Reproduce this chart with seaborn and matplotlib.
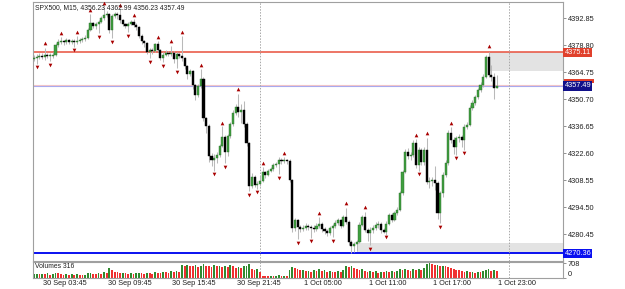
import numpy as np
import pandas as pd
import matplotlib
matplotlib.use("Agg")
import matplotlib.pyplot as plt
import matplotlib.transforms as mtransforms
from matplotlib.patches import Rectangle
import seaborn as sns

# SPX500 M15 bars
opens = [4371.5, 4372.0, 4372.6, 4373.1, 4372.6, 4373.6, 4373.1, 4373.1, 4373.6, 4378.8,
         4380.4, 4380.9, 4380.4, 4381.4, 4380.4, 4380.9, 4380.4, 4380.9, 4381.4, 4381.9,
         4382.4, 4386.6, 4390.2, 4388.7, 4389.7, 4390.8, 4392.8, 4394.4, 4394.9, 4386.6,
         4393.9, 4394.9, 4394.4, 4391.8, 4389.7, 4388.7, 4389.7, 4390.8, 4389.2, 4388.2,
         4383.5, 4380.9, 4379.9, 4375.2, 4376.2, 4375.7, 4379.3, 4376.2, 4372.0, 4373.6,
         4374.6, 4374.1, 4374.6, 4371.5, 4374.1, 4373.1, 4372.0, 4367.9, 4363.7, 4365.3,
         4358.0, 4352.8, 4357.5, 4361.1, 4340.8, 4336.7, 4321.1, 4319.0, 4320.0, 4321.6,
         4326.3, 4330.9, 4323.2, 4331.5, 4337.7, 4343.5, 4346.6, 4344.0, 4345.0, 4337.7,
         4327.8, 4305.5, 4310.2, 4306.0, 4306.5, 4308.1, 4312.8, 4311.2, 4313.3, 4314.3,
         4316.4, 4316.9, 4319.0, 4318.5, 4319.0, 4318.5, 4308.6, 4283.6, 4287.8, 4284.1,
         4283.1, 4283.6, 4284.6, 4284.1, 4283.6, 4283.1, 4284.6, 4285.7, 4283.1, 4282.1,
         4281.0, 4283.6, 4284.6, 4286.2, 4287.8, 4284.7, 4289.4, 4286.8, 4276.4, 4274.3,
         4275.3, 4276.4, 4285.2, 4289.4, 4282.6, 4281.0, 4282.6, 4283.6, 4285.2, 4285.7,
         4282.6, 4281.5, 4285.7, 4290.4, 4287.8, 4291.4, 4293.0, 4301.8, 4312.8, 4323.1,
         4321.1, 4321.6, 4327.8, 4316.4, 4324.2, 4317.9, 4324.2, 4307.5, 4308.1, 4308.6,
         4307.0, 4291.4, 4301.8, 4311.2, 4317.4, 4333.0, 4329.4, 4325.8, 4330.4, 4330.9,
         4329.4, 4336.1, 4337.2, 4346.0, 4348.6, 4351.8, 4355.4, 4358.0, 4362.2, 4372.6,
         4363.2, 4362.2, 4356.23]
highs = [4373.5, 4374.0, 4374.5, 4374.5, 4377.5, 4374.5, 4374.5, 4375.0, 4380.0, 4382.0,
         4383.0, 4381.5, 4382.5, 4382.0, 4382.0, 4382.0, 4383.5, 4382.5, 4383.0, 4384.0,
         4387.5, 4395.0, 4391.0, 4391.0, 4392.0, 4394.0, 4398.5, 4396.5, 4395.5, 4395.0,
         4396.0, 4396.0, 4397.5, 4392.5, 4390.5, 4391.0, 4392.0, 4392.5, 4390.0, 4388.5,
         4384.5, 4381.5, 4380.5, 4377.5, 4377.0, 4380.0, 4381.0, 4376.5, 4375.0, 4376.0,
         4375.5, 4378.5, 4375.5, 4375.0, 4374.5, 4383.5, 4372.5, 4368.5, 4366.5, 4366.0,
         4358.5, 4358.5, 4366.5, 4362.0, 4341.5, 4337.5, 4322.5, 4322.0, 4323.0, 4327.5,
         4336.5, 4332.0, 4332.5, 4338.5, 4345.0, 4348.0, 4353.5, 4348.0, 4349.5, 4338.5,
         4328.5, 4312.0, 4311.0, 4308.0, 4310.5, 4315.5, 4313.5, 4314.5, 4315.5, 4317.5,
         4318.0, 4320.5, 4320.0, 4320.5, 4319.5, 4319.5, 4309.0, 4289.0, 4288.5, 4285.0,
         4285.0, 4286.0, 4285.5, 4285.0, 4285.0, 4286.0, 4289.5, 4286.5, 4284.0, 4283.0,
         4284.5, 4285.5, 4287.5, 4289.0, 4288.5, 4290.5, 4294.0, 4287.5, 4277.5, 4276.5,
         4277.5, 4286.5, 4290.5, 4292.0, 4283.5, 4284.0, 4285.0, 4286.5, 4287.0, 4286.5,
         4283.5, 4287.0, 4291.5, 4291.5, 4292.5, 4294.5, 4303.0, 4314.0, 4324.5, 4325.0,
         4323.0, 4329.5, 4330.0, 4325.5, 4325.0, 4325.5, 4330.5, 4310.0, 4310.0, 4316.0,
         4308.0, 4303.0, 4312.5, 4319.0, 4334.5, 4336.0, 4331.0, 4331.5, 4332.5, 4332.0,
         4337.5, 4339.0, 4347.5, 4350.0, 4353.0, 4356.5, 4359.5, 4363.5, 4373.5, 4375.11,
         4368.5, 4364.0, 4362.99]
lows = [4370.5, 4369.0, 4371.5, 4371.5, 4371.0, 4372.0, 4370.5, 4372.0, 4373.0, 4378.0,
        4379.5, 4379.0, 4379.5, 4379.5, 4379.5, 4378.0, 4379.5, 4380.0, 4380.5, 4381.0,
        4382.0, 4386.0, 4387.5, 4387.0, 4385.0, 4390.0, 4392.0, 4393.5, 4385.0, 4382.5,
        4393.0, 4392.5, 4390.5, 4388.5, 4387.5, 4385.5, 4389.0, 4388.0, 4386.5, 4382.5,
        4379.5, 4378.0, 4374.0, 4372.0, 4374.0, 4375.0, 4375.0, 4371.0, 4370.0, 4373.0,
        4373.0, 4373.0, 4369.5, 4367.0, 4372.0, 4370.5, 4366.5, 4361.0, 4362.5, 4356.0,
        4350.0, 4351.5, 4356.5, 4339.5, 4333.0, 4318.0, 4316.0, 4313.5, 4317.5, 4320.5,
        4325.5, 4317.5, 4321.0, 4330.5, 4336.5, 4342.5, 4341.5, 4338.0, 4336.0, 4326.0,
        4303.0, 4304.5, 4305.0, 4304.0, 4305.5, 4307.5, 4309.5, 4310.5, 4312.5, 4313.5,
        4315.5, 4311.5, 4317.0, 4317.5, 4317.0, 4307.5, 4281.5, 4282.0, 4278.0, 4281.5,
        4282.0, 4282.5, 4282.5, 4278.5, 4281.5, 4282.0, 4283.5, 4281.5, 4280.5, 4279.5,
        4280.0, 4279.0, 4283.5, 4285.0, 4283.5, 4284.0, 4285.5, 4275.0, 4270.4, 4271.0,
        4271.5, 4276.0, 4284.5, 4281.5, 4277.0, 4274.5, 4281.0, 4282.5, 4283.5, 4281.0,
        4281.0, 4280.0, 4285.0, 4286.5, 4287.0, 4290.5, 4292.5, 4301.0, 4312.0, 4319.5,
        4319.0, 4320.5, 4315.0, 4313.5, 4316.5, 4316.5, 4306.5, 4304.5, 4305.5, 4303.5,
        4288.5, 4286.0, 4299.5, 4310.0, 4316.5, 4328.0, 4322.0, 4321.5, 4328.5, 4325.5,
        4324.0, 4335.0, 4336.5, 4345.0, 4347.5, 4350.5, 4354.5, 4357.0, 4361.5, 4362.0,
        4360.0, 4350.5, 4356.23]
closes = [4372.0, 4372.6, 4373.1, 4372.6, 4373.6, 4373.1, 4373.1, 4373.6, 4378.8, 4380.4,
          4380.9, 4380.4, 4381.4, 4380.4, 4380.9, 4380.4, 4380.9, 4381.4, 4381.9, 4382.4,
          4386.6, 4390.2, 4388.7, 4389.7, 4390.8, 4392.8, 4394.4, 4394.9, 4386.6, 4393.9,
          4394.9, 4394.4, 4391.8, 4389.7, 4388.7, 4389.7, 4390.8, 4389.2, 4388.2, 4383.5,
          4380.9, 4379.9, 4375.2, 4376.2, 4375.7, 4379.3, 4376.2, 4372.0, 4373.6, 4374.6,
          4374.1, 4374.6, 4371.5, 4374.1, 4373.1, 4372.0, 4367.9, 4363.7, 4365.3, 4358.0,
          4352.8, 4357.5, 4361.1, 4340.8, 4336.7, 4321.1, 4319.0, 4320.0, 4321.6, 4326.3,
          4330.9, 4323.2, 4331.5, 4337.7, 4343.5, 4346.6, 4344.0, 4345.0, 4337.7, 4327.8,
          4305.5, 4310.2, 4306.0, 4306.5, 4308.1, 4312.8, 4311.2, 4313.3, 4314.3, 4316.4,
          4316.9, 4319.0, 4318.5, 4319.0, 4318.5, 4308.6, 4283.6, 4287.8, 4284.1, 4283.1,
          4283.6, 4284.6, 4284.1, 4283.6, 4283.1, 4284.6, 4285.7, 4283.1, 4282.1, 4281.0,
          4283.6, 4284.6, 4286.2, 4287.8, 4284.7, 4289.4, 4286.8, 4276.4, 4274.3, 4275.3,
          4276.4, 4285.2, 4289.4, 4282.6, 4281.0, 4282.6, 4283.6, 4285.2, 4285.7, 4282.6,
          4281.5, 4285.7, 4290.4, 4287.8, 4291.4, 4293.0, 4301.8, 4312.8, 4323.1, 4321.1,
          4321.6, 4327.8, 4316.4, 4324.2, 4317.9, 4324.2, 4307.5, 4308.1, 4308.6, 4307.0,
          4291.4, 4301.8, 4311.2, 4317.4, 4333.0, 4329.4, 4325.8, 4330.4, 4330.9, 4329.4,
          4336.1, 4337.2, 4346.0, 4348.6, 4351.8, 4355.4, 4358.0, 4362.2, 4372.6, 4363.2,
          4362.2, 4356.23, 4357.49]
volumes = [180, 210, 170, 200, 190, 230, 160, 200, 260, 220,
           170, 150, 190, 160, 180, 150, 170, 160, 140, 150,
           240, 260, 210, 190, 230, 210, 270, 250, 470, 380,
           300, 270, 240, 250, 230, 210, 240, 200, 230, 250,
           230, 210, 260, 240, 200, 270, 250, 230, 300, 280,
           240, 320, 270, 340, 300, 620, 560, 640, 600, 580,
           610, 530, 560, 650, 600, 580, 540, 620, 560, 600,
           540, 580, 520, 610, 560, 500, 540, 470, 560, 590,
           680, 420, 380, 450, 300, 120, 110, 90, 120, 100,
           110, 130, 100, 120, 110, 380, 520, 460, 420, 380,
           400, 340, 360, 310, 380, 350, 410, 330, 370, 300,
           340, 310, 280, 330, 290, 380, 560, 520, 580, 480,
           450, 380, 420, 360, 300, 330, 280, 320, 260, 300,
           280, 330, 300, 340, 290, 360, 420, 380, 450, 400,
           360, 420, 380, 440, 400, 470, 690, 708, 680, 620,
           640, 580, 600, 560, 520, 470, 440, 400, 380, 350,
           300, 330, 280, 310, 260, 300, 280, 340, 380, 420,
           350, 380, 316]

# fractal arrows
up_bars = [4, 10, 16, 21, 26, 32, 37, 46, 51, 55, 62, 70, 76, 85, 93, 106, 116, 123, 142, 146, 155, 169]
up_prices = [4379.9, 4385.0, 4385.6, 4397.0, 4400.7, 4399.6, 4394.4, 4383.0, 4380.9, 4385.6, 4368.4,
             4338.2, 4355.9, 4317.4, 4322.6, 4291.4, 4296.6, 4294.5, 4332.0, 4333.0, 4338.2, 4378.3]
down_bars = [1, 6, 15, 24, 29, 35, 43, 48, 53, 67, 71, 80, 83, 91, 98, 103, 111, 125, 131, 143, 151, 157, 160]
down_prices = [4367.4, 4368.4, 4376.2, 4382.9, 4380.4, 4383.5, 4370.0, 4367.9, 4364.8, 4311.7, 4315.3,
               4300.7, 4302.3, 4309.6, 4275.8, 4276.8, 4276.8, 4272.7, 4278.9, 4311.7, 4284.1, 4320.0, 4322.6]

price_ticks = [4392.85, 4378.80, 4364.75, 4350.70, 4336.65, 4322.60, 4308.55, 4294.50, 4280.45]
time_ticks = [11.5, 35.5, 59.5, 83.5, 107.5, 131.5, 155.5, 179.5]
time_labels = ['30 Sep 03:45', '30 Sep 09:45', '30 Sep 15:45', '30 Sep 21:45',
               '1 Oct 05:00', '1 Oct 11:00', '1 Oct 17:00', '1 Oct 23:00']
separators = [84, 176.5]

resistance = 4375.11
support = 4270.36
bid = 4357.49
ask = 4358.25
zone_top = [169, 4365.5, 4375.11]
zone_bottom = [120, 4270.36, 4275.8]

sns.set_style("white")
plt.rcParams['font.family'] = ['Liberation Sans', 'DejaVu Sans']

df = pd.DataFrame({'open': opens, 'high': highs, 'low': lows, 'close': closes, 'volume': volumes})
df['bar'] = np.arange(len(df))
bull = df['close'] >= df['open']

W, H = 625, 289
fig = plt.figure(figsize=(W / 100, H / 100), dpi=100)
ax = fig.add_axes([33 / W, 1 - 261 / H, 530 / W, 259 / H])
axv = fig.add_axes([33 / W, 1 - 278 / H, 530 / W, 16 / H], sharex=ax)

xmax = 196.65
ax.set_xlim(-0.37, xmax)
ax.set_ylim(4266.42, 4401.18)

# shaded zones
ax.fill_between([zone_top[0], xmax], zone_top[1], zone_top[2], color='#e3e3e3', lw=0, zorder=0)
ax.fill_between([zone_bottom[0], xmax], zone_bottom[1], zone_bottom[2], color='#e3e3e3', lw=0, zorder=0)

# candles
ax.vlines(df['bar'], df['low'], df['high'], color='#b9b9b9', lw=0.75, zorder=2)
body = (df['close'] - df['open']).abs().clip(lower=0.45)
ax.bar(df['bar'][bull], body[bull], bottom=df['open'][bull], width=0.78,
       color='#3f9f3f', edgecolor='#2c6e2c', lw=0.3, zorder=3)
ax.bar(df['bar'][~bull], body[~bull], bottom=df['close'][~bull], width=0.78,
       color='#000000', edgecolor='#000000', lw=0.3, zorder=3)

sns.scatterplot(x=up_bars, y=up_prices, marker='^', s=7, color='#a80000', linewidth=0, ax=ax, zorder=4)
sns.scatterplot(x=down_bars, y=down_prices, marker='v', s=7, color='#a80000', linewidth=0, ax=ax, zorder=4)

# level lines
ax.axhline(resistance, color='#e8503c', lw=1.1, zorder=1)
ax.axhline(ask, color='#f6c6c6', lw=0.8, zorder=1)
ax.axhline(bid, color='#a9a9ee', lw=0.8, zorder=1)
ax.axhline(support, color='#0a10f0', lw=1.4, zorder=1)

for a in (ax, axv):
    for s in separators:
        a.axvline(s, color='#a8a8a8', lw=0.7, ls=(0, (1.5, 1.5)), zorder=1)
    for sp in a.spines.values():
        sp.set_color('#a0a0a0')
        sp.set_linewidth(0.8)

ax.yaxis.tick_right()
ax.set_yticks(price_ticks)
ax.set_yticklabels([f'{p:.2f}' for p in price_ticks])
ax.tick_params(axis='y', length=2.5, width=0.6, color='#808080', labelsize=5.3, pad=1,
               labelcolor='#202020', right=True)
ax.tick_params(axis='x', bottom=False, labelbottom=False)

trans = mtransforms.blended_transform_factory(ax.transAxes, ax.transData)
label_style = dict(transform=trans, color='white', fontsize=5.3, va='center', ha='left', clip_on=False)
ax.text(1.003, resistance, f'{resistance:.2f}', zorder=6,
        bbox=dict(boxstyle='square,pad=0.15', fc='#e0402c', ec='none'), **label_style)
# ask marker peeking out above the bid label
ax.add_patch(Rectangle((1.002, bid + 1.8), 0.056, 1.6, transform=trans, fc='#e0402c', ec='none',
                       clip_on=False, zorder=5))
ax.text(1.003, bid, f'{bid:.2f}', zorder=6,
        bbox=dict(boxstyle='square,pad=0.15', fc='#10108a', ec='none'), **label_style)
ax.text(1.003, support, f'{support:.2f}', zorder=6,
        bbox=dict(boxstyle='square,pad=0.15', fc='#0a10f0', ec='none'), **label_style)

ax.text(0.003, 0.992, 'SPX500, M15, 4356.23 4362.99 4356.23 4357.49', transform=ax.transAxes,
        va='top', ha='left', fontsize=4.9, color='#202020', zorder=7)

# volume panel
vol_colors = ['#2f8a2f' if i > 0 and v > volumes[i - 1] else '#f03030' for i, v in enumerate(volumes)]
vol_colors[0] = '#2f8a2f'
axv.bar(df['bar'], df['volume'], width=0.65, color=vol_colors, lw=0, zorder=2)
axv.set_ylim(0, 770)
axv.yaxis.tick_right()
axv.set_yticks([708, 0])
axv.set_yticklabels(['708', '0'])
axv.tick_params(axis='y', length=2.5, width=0.6, color='#808080', labelsize=5.3, pad=1,
                labelcolor='#202020', right=True)
axv.get_yticklabels()[1].set_verticalalignment('bottom')
axv.set_xticks(time_ticks)
axv.set_xticklabels(time_labels)
axv.tick_params(axis='x', length=0, labelsize=5.3, pad=1.5, labelcolor='#202020')
axv.text(0.003, 0.95, 'Volumes 316', transform=axv.transAxes, va='top', ha='left',
         fontsize=4.9, color='#202020')
axv.set_xlim(-0.37, xmax)

fig.savefig('out.png', dpi=100)
